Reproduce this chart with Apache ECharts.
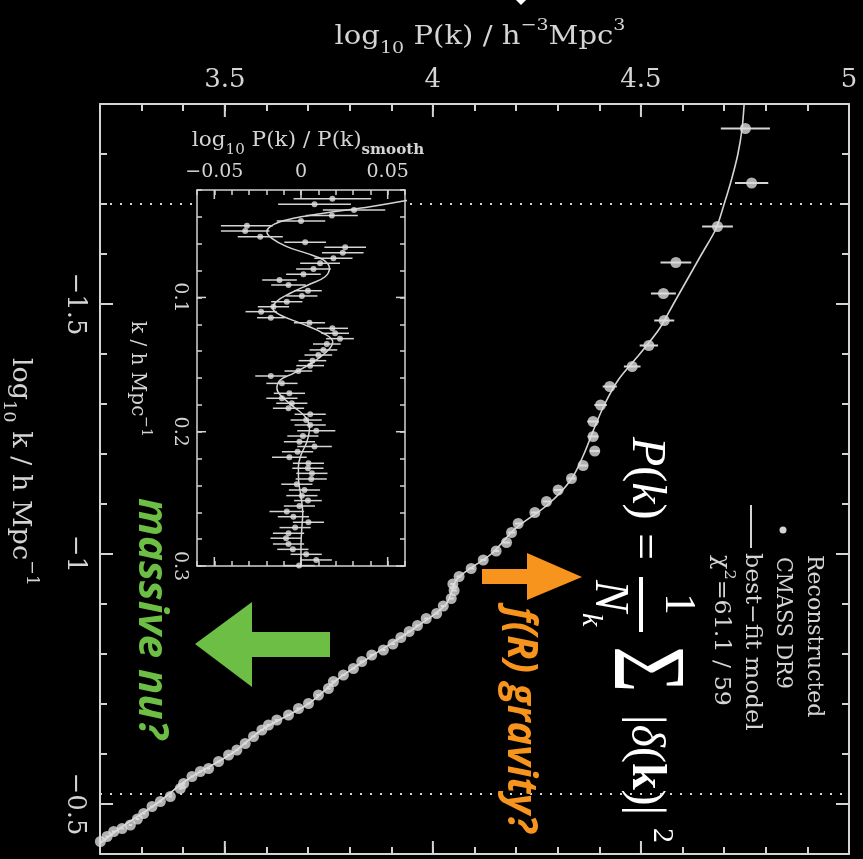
<!DOCTYPE html>
<html>
<head>
<meta charset="utf-8">
<script src="https://cdn.jsdelivr.net/npm/echarts@6/dist/echarts.min.js"></script>
<style>
  html, body { margin: 0; padding: 0; background: #000; }
  #chart { width: 863px; height: 859px; }
</style>
</head>
<body>
<div id="chart"></div>
<script>
// ---- Reconstructed CMASS DR9 power spectrum: log10 k [h/Mpc] and log10 P(k) ----
const mainLogK = [-1.851,-1.742,-1.655,-1.583,-1.521,-1.467,-1.417,-1.375,-1.335,-1.298,-1.265,-1.235,-1.206,-1.177,-1.151,-1.128,-1.105,-1.083,-1.061,-1.043,-1.023,-1.006,-0.988,-0.971,-0.955,-0.940,-0.927,-0.911,-0.896,-0.881,-0.871,-0.857,-0.845,-0.833,-0.820,-0.808,-0.798,-0.785,-0.771,-0.758,-0.745,-0.731,-0.718,-0.701,-0.691,-0.678,-0.668,-0.658,-0.648,-0.635,-0.621,-0.608,-0.598,-0.585,-0.571,-0.565,-0.555,-0.541,-0.531,-0.515,-0.505,-0.495,-0.481,-0.470,-0.458,-0.451,-0.445,-0.435,-0.425];
const mainLogP = [4.751,4.766,4.684,4.584,4.554,4.556,4.519,4.479,4.425,4.403,4.385,4.385,4.389,4.361,4.333,4.301,4.273,4.245,4.205,4.189,4.177,4.152,4.121,4.092,4.063,4.048,4.051,4.044,4.025,4.009,3.984,3.963,3.943,3.923,3.904,3.881,3.853,3.829,3.809,3.785,3.761,3.749,3.725,3.701,3.677,3.653,3.625,3.605,3.589,3.569,3.549,3.529,3.509,3.485,3.461,3.441,3.421,3.401,3.393,3.369,3.345,3.325,3.305,3.290,3.273,3.253,3.233,3.217,3.201];
const mainErr = [0.059,0.040,0.037,0.037,0.030,0.024,0.022,0.020,0.017,0.015,0.014,0.013,0.012,0.011,0.010,0.010,0.009,0.009,0.008,0.008,0.008,0.007,0.007,0.007,0.006,0.006,0.006,0.006,0.006,0.005,
  0.005,0.005,0.005,0.005,0.005,0.005,0.005,0.005,0.005,0.005,0.005,0.005,0.005,0.005,0.005,0.005,0.005,0.005,0.005,0.005,
  0.004,0.004,0.004,0.004,0.004,0.004,0.004,0.004,0.004,0.004,0.004,0.004,0.004,0.004,0.004,0.004,0.004,0.004,0.004];

// best-fit model curve
const modelLogK = [-1.90,-1.85,-1.80,-1.75,-1.70,-1.65,-1.60,-1.55,-1.50,-1.45,-1.40,-1.35,-1.30,-1.25,-1.20,-1.15,-1.10,-1.05,-1.00,-0.95,-0.90,-0.85,-0.80,-0.75,-0.70,-0.65,-0.60,-0.55,-0.50,-0.45,-0.40];
const modelLogP = [4.748,4.743,4.733,4.718,4.700,4.680,4.646,4.612,4.578,4.544,4.497,4.447,4.413,4.387,4.363,4.333,4.278,4.197,4.140,4.058,4.032,3.953,3.860,3.772,3.700,3.592,3.515,3.412,3.335,3.245,3.170];

// ---- inset: BAO wiggles, log10 P(k)/P_smooth(k) against k ----
const insetK = [0.0265,0.0306,0.0349,0.0389,0.0431,0.0466,0.0505,0.0548,0.0589,0.0627,0.0667,0.0709,0.0746,0.0788,0.0828,0.0870,0.0907,0.0950,0.0989,0.1032,0.1069,0.1106,0.1151,0.1188,0.1230,0.1267,0.1307,0.1347,0.1391,0.1429,0.1471,0.1508,0.1548,0.1585,0.1640,0.1714,0.1751,0.1788,0.1826,0.1870,0.1913,0.1950,0.1992,0.2032,0.2074,0.2111,0.2149,0.2190,0.2235,0.2272,0.2310,0.2352,0.2391,0.2434,0.2476,0.2513,0.2553,0.2595,0.2633,0.2674,0.2714,0.2756,0.2793,0.2836,0.2876,0.2913,0.2955,0.2997];
const insetRatio = [0.0181,0.0078,0.0306,0.0178,0.0000,-0.0312,-0.0322,-0.0235,0.0024,0.0255,0.0241,0.0187,0.0110,0.0072,0.0014,-0.0124,-0.0072,0.0040,0.0005,-0.0082,-0.0159,-0.0230,-0.0174,0.0049,0.0181,0.0197,0.0225,0.0149,0.0129,0.0100,0.0066,0.0053,-0.0015,-0.0174,-0.0110,-0.0067,-0.0110,-0.0053,-0.0072,0.0053,0.0030,0.0053,0.0088,0.0011,-0.0009,0.0078,-0.0020,-0.0067,0.0043,0.0040,0.0063,0.0059,-0.0024,0.0020,0.0005,0.0040,-0.0009,-0.0082,-0.0044,0.0043,-0.0034,-0.0072,-0.0086,-0.0072,-0.0047,0.0030,0.0088,-0.0011];
const insetErr = [0.0224,0.021,0.018,0.015,0.014,0.015,0.014,0.013,0.012,0.012,0.012,0.011,0.0115,0.010,0.010,0.010,0.010,0.008,0.009,0.009,0.009,0.009,0.008,0.009,0.009,0.008,0.008,0.008,0.008,0.008,0.008,0.008,0.008,0.009,
  0.009,0.009,0.009,0.009,0.009,0.009,0.009,0.009,0.011,0.009,0.009,0.010,0.009,0.010,0.009,0.009,0.009,0.009,0.009,0.009,
  0.009,0.008,0.009,0.010,0.009,0.009,0.009,0.009,0.009,0.009,0.009,0.009,0.009,0.009];
const smoothK = [0.024,0.028,0.0324,0.0362,0.040,0.0436,0.0473,0.051,0.056,0.0622,0.0672,0.0721,0.0783,0.0846,0.090,0.0969,0.1032,0.1081,0.1131,0.1193,0.1267,0.133,0.1391,0.1479,0.1565,0.1615,0.1677,0.1726,0.1813,0.1888,0.1974,0.2074,0.2173,0.226,0.2359,0.2484,0.2607,0.2732,0.2856,0.300];
const smoothRatio = [0.075,0.060,0.0398,0.0187,0.0,-0.012,-0.0178,-0.0197,-0.0168,-0.0082,0.0034,0.0129,0.0164,0.0139,0.0053,-0.0062,-0.0143,-0.0162,-0.012,0.0,0.0129,0.0183,0.0158,0.0072,-0.0044,-0.012,-0.0139,-0.012,-0.0044,0.0024,0.0049,0.0034,0.0,-0.0015,-0.0014,0.0,0.0010,0.0004,0.0,0.0];

// ---- axis ranges and labelled ticks ----
const pRange = [3.2, 5.0];
const kRange = [-1.9, -0.4];
const ratioRange = [-0.06, 0.06];
const kLinRange = [0.02, 0.3];
const pTicks = [3.5, 4, 4.5, 5];
const kTicks = [-1.5, -1, -0.5];
const ratioTicks = [-0.05, 0, 0.05];
const kLinTicks = [0.1, 0.2, 0.3];

const FG = '#d4d4d4';
const SERIF = '"DejaVu Serif", serif';
const TEX = '"Liberation Serif", serif';
const SANS = '"Open Sans", sans-serif';

const near = (list, v) => list.some(t => Math.abs(t - v) < 1e-6);
const fmt = v => String(+v.toFixed(3)).replace('-', '\u2212');

function axis(grid, pos, range, step, opts) {
  const o = opts || {};
  return {
    gridIndex: grid, type: 'value', position: pos,
    min: range[0], max: range[1], interval: step,
    inverse: !!o.inverse, z: o.z || 0,
    axisLine: { onZero: false, lineStyle: { color: FG, width: o.lw || 2 } },
    axisTick: { inside: true, length: o.tick || 7, lineStyle: { color: FG, width: o.lw || 2 } },
    splitLine: { show: false },
    axisLabel: o.labels ? {
      show: true, color: FG, fontFamily: SERIF, fontSize: o.fs || 26,
      margin: o.margin || 10, rotate: o.rotate || 0,
      formatter: v => near(o.labels, v) ? fmt(v) : ''
    } : { show: false }
  };
}

// longer ticks at the labelled values, drawn on both sides of a frame
function majorTicks(xi, yi, values, dir, other, len, lw, z) {
  return {
    type: 'custom', xAxisIndex: xi, yAxisIndex: yi, clip: false, silent: true, z: z,
    data: values.map(v => dir === 'x' ? [v, other] : [other, v]),
    renderItem: (params, api) => {
      const r = params.coordSys;
      const p = api.coord([api.value(0), api.value(1)]);
      const st = { stroke: FG, lineWidth: lw };
      const kids = dir === 'x' ? [
        { type: 'line', shape: { x1: p[0], y1: r.y, x2: p[0], y2: r.y + len }, style: st },
        { type: 'line', shape: { x1: p[0], y1: r.y + r.height, x2: p[0], y2: r.y + r.height - len }, style: st }
      ] : [
        { type: 'line', shape: { x1: r.x, y1: p[1], x2: r.x + len, y2: p[1] }, style: st },
        { type: 'line', shape: { x1: r.x + r.width, y1: p[1], x2: r.x + r.width - len, y2: p[1] }, style: st }
      ];
      return { type: 'group', children: kids };
    }
  };
}

// horizontal error bars in the x direction
function errorBars(xi, yi, xs, ys, es, lw, z) {
  return {
    type: 'custom', xAxisIndex: xi, yAxisIndex: yi, silent: true, z: z,
    data: xs.map((x, i) => [x, ys[i], es[i]]),
    encode: { x: 0, y: 1 },
    renderItem: (params, api) => {
      const x = api.value(0), y = api.value(1), e = api.value(2);
      const a = api.coord([x - e, y]), b = api.coord([x + e, y]);
      return { type: 'line', shape: { x1: a[0], y1: a[1], x2: b[0], y2: b[1] }, style: { stroke: FG, lineWidth: lw } };
    }
  };
}

function rotText(x, y, text, style, extra) {
  return Object.assign({
    type: 'text', x: x, y: y, rotation: -Math.PI / 2, z: 20,
    style: Object.assign({ text: text, fill: FG, fontFamily: SERIF, fontSize: 22, align: 'left', verticalAlign: 'middle' }, style)
  }, extra || {});
}

const texTok = (size, extra) => Object.assign({ fontFamily: TEX, fontSize: size, fill: '#ffffff', lineHeight: size + 4 }, extra || {});

const chart = echarts.init(document.getElementById('chart'), null, { renderer: 'canvas' });

chart.setOption({
  backgroundColor: '#000000',
  animation: false,
  grid: [
    { left: 100, top: 104, width: 749, height: 750 },
    { left: 197, top: 190, width: 208, height: 376, show: true, backgroundColor: '#000000', borderWidth: 0, z: 10 }
  ],
  xAxis: [
    axis(0, 'top', pRange, 0.1, { labels: pTicks, margin: 11 }),
    axis(0, 'bottom', pRange, 0.1),
    axis(1, 'top', ratioRange, 0.01, { labels: ratioTicks, fs: 19, margin: 8, tick: 5, lw: 1.5, z: 12 }),
    axis(1, 'bottom', ratioRange, 0.01, { tick: 5, lw: 1.5, z: 12 })
  ],
  yAxis: [
    axis(0, 'left', kRange, 0.1, { inverse: true, labels: kTicks, rotate: -90, margin: 12 }),
    axis(0, 'right', kRange, 0.1, { inverse: true }),
    axis(1, 'left', kLinRange, 0.02, { inverse: true, labels: kLinTicks, rotate: -90, fs: 19, margin: 8, tick: 5, lw: 1.5, z: 12 }),
    axis(1, 'right', kLinRange, 0.02, { inverse: true, tick: 5, lw: 1.5, z: 12 })
  ],
  series: [
    {
      type: 'line', xAxisIndex: 0, yAxisIndex: 0, z: 2,
      data: modelLogP.map((p, i) => [p, modelLogK[i]]),
      smooth: 0.3, showSymbol: false, clip: true, silent: true,
      lineStyle: { color: FG, width: 1.6 },
      markLine: {
        silent: true, symbol: ['none', 'none'], label: { show: false },
        lineStyle: { color: FG, width: 2, type: [2, 8] },
        data: kLinRange.map(k => ({ yAxis: Math.log10(k) }))
      }
    },
    errorBars(0, 0, mainLogP, mainLogK, mainErr, 2, 3),
    {
      type: 'scatter', xAxisIndex: 0, yAxisIndex: 0, z: 4, silent: true,
      data: mainLogP.map((p, i) => [p, mainLogK[i]]),
      symbol: 'circle', symbolSize: 11,
      itemStyle: { color: '#dcdcdc' }
    },
    majorTicks(0, 0, pTicks, 'x', kRange[0], 13, 2, 5),
    majorTicks(0, 0, kTicks, 'y', pRange[0], 13, 2, 5),
    {
      type: 'line', xAxisIndex: 2, yAxisIndex: 2, z: 13,
      data: smoothRatio.map((r, i) => [r, smoothK[i]]),
      smooth: 0.4, showSymbol: false, clip: true, silent: true,
      lineStyle: { color: FG, width: 1.5 }
    },
    errorBars(2, 2, insetRatio, insetK, insetErr, 1.5, 13),
    {
      type: 'scatter', xAxisIndex: 2, yAxisIndex: 2, z: 14, silent: true,
      data: insetRatio.map((r, i) => [r, insetK[i]]),
      symbol: 'circle', symbolSize: 6,
      itemStyle: { color: '#e0e0e0' }
    },
    majorTicks(2, 2, ratioTicks, 'x', kLinRange[0], 9, 1.5, 13),
    majorTicks(2, 2, kLinTicks, 'y', ratioRange[0], 9, 1.5, 13)
  ],
  graphic: { elements: [
    // axis titles
    {
      type: 'text', x: 480, y: 37, z: 20, scaleX: 1.12,
      style: {
        text: '{m|log}{s|10}{m| P(k) / h}{p|\u22123}{m|Mpc}{p|3}', align: 'center', verticalAlign: 'middle',
        rich: {
          m: { fontFamily: SERIF, fontSize: 26, fill: FG, lineHeight: 40 },
          s: { fontFamily: SERIF, fontSize: 17, fill: FG, lineHeight: 18, verticalAlign: 'bottom' },
          p: { fontFamily: SERIF, fontSize: 17, fill: FG, lineHeight: 18, verticalAlign: 'top' }
        }
      }
    },
    rotText(20, 472, '{m|log}{s|10}{m| k / h Mpc}{p|\u22121}', {
      align: 'center',
      rich: {
        m: { fontFamily: SERIF, fontSize: 26, fill: FG, lineHeight: 40 },
        s: { fontFamily: SERIF, fontSize: 17, fill: FG, lineHeight: 18, verticalAlign: 'bottom' },
        p: { fontFamily: SERIF, fontSize: 17, fill: FG, lineHeight: 18, verticalAlign: 'top' }
      }
    }, { scaleX: 1.04 }),
    {
      type: 'text', x: 308, y: 141, z: 20, scaleX: 1.08,
      style: {
        text: '{m|log}{s|10}{m| P(k) / P(k)}{b|smooth}', align: 'center', verticalAlign: 'middle',
        rich: {
          m: { fontFamily: SERIF, fontSize: 20, fill: FG, lineHeight: 32 },
          s: { fontFamily: SERIF, fontSize: 14, fill: FG, lineHeight: 14, verticalAlign: 'bottom' },
          b: { fontFamily: SERIF, fontSize: 14, fontWeight: 'bold', fill: FG, lineHeight: 14, verticalAlign: 'bottom' }
        }
      }
    },
    rotText(137, 379, '{m|k / h Mpc}{p|\u22121}', {
      align: 'center',
      rich: {
        m: { fontFamily: SERIF, fontSize: 20, fill: FG, lineHeight: 32 },
        p: { fontFamily: SERIF, fontSize: 14, fill: FG, lineHeight: 14, verticalAlign: 'top' }
      }
    }),
    // key
    rotText(814, 555, 'Reconstructed'),
    { type: 'circle', z: 20, shape: { cx: 783, cy: 530, r: 3.5 }, style: { fill: FG } },
    rotText(783, 557, 'CMASS DR9', {}, { scaleX: 0.94 }),
    { type: 'line', z: 20, shape: { x1: 751, y1: 505, x2: 751, y2: 548 }, style: { stroke: FG, lineWidth: 2 } },
    rotText(752, 553, 'best\u2212fit model', {}, { scaleX: 1.08 }),
    rotText(721, 555, '{m|\u03c7}{p|2}{m|=61.1 / 59}', {
      rich: {
        m: { fontFamily: SERIF, fontSize: 22, fill: FG, lineHeight: 30 },
        p: { fontFamily: SERIF, fontSize: 15, fill: FG, lineHeight: 15, verticalAlign: 'top' }
      }
    }, { scaleX: 1.08 }),
    // estimator formula
    {
      type: 'group', x: 700, y: 430, rotation: -Math.PI / 2, z: 20,
      children: [
        { type: 'text', x: 7, y: 54, style: { text: '{i|P}{n|(}{i|k}{n|)}', verticalAlign: 'middle',
          rich: { i: texTok(48, { fontStyle: 'italic' }), n: texTok(48) } } },
        { type: 'text', x: 103, y: 57, style: { text: '=', fontFamily: TEX, fontSize: 48, fill: '#fff', verticalAlign: 'middle' } },
        { type: 'rect', shape: { x: 147, y: 57, width: 55, height: 4 }, style: { fill: '#fff' } },
        { type: 'text', x: 174, y: 22, style: { text: '1', fontFamily: TEX, fontSize: 44, fill: '#fff', align: 'center', verticalAlign: 'middle' } },
        { type: 'text', x: 150, y: 91, style: { text: 'N', fontFamily: TEX, fontStyle: 'italic', fontSize: 48, fill: '#fff', verticalAlign: 'middle' } },
        { type: 'text', x: 183, y: 109, style: { text: 'k', fontFamily: TEX, fontStyle: 'italic', fontSize: 30, fill: '#fff', verticalAlign: 'middle' } },
        { type: 'text', x: 216, y: 58, scaleY: 1.3, style: { text: '\u03a3', fontFamily: TEX, fontSize: 80, fill: '#fff', verticalAlign: 'middle' } },
        { type: 'text', x: 285, y: 55, style: { text: '{n||}{i|\u03b4}{n|(}{b|k}{n|)|}', verticalAlign: 'middle',
          rich: { i: texTok(48, { fontStyle: 'italic' }), n: texTok(48), b: texTok(48, { fontWeight: 'bold' }) } } },
        { type: 'text', x: 398, y: 38, style: { text: '2', fontFamily: TEX, fontSize: 30, fill: '#fff', verticalAlign: 'middle' } }
      ]
    },
    // annotations
    { type: 'polygon', z: 20, shape: { points: [[195, 644], [252, 602], [252, 632], [330, 632], [330, 657], [252, 657], [252, 687]] }, style: { fill: '#6cbe45' } },
    rotText(151, 498, 'massive nu?', { fill: '#6cbe45', fontFamily: SANS, fontWeight: 'bold', fontStyle: 'italic', fontSize: 42 }),
    { type: 'polygon', z: 20, shape: { points: [[582, 577], [527, 553], [527, 569], [482, 569], [482, 584], [527, 584], [527, 600]] }, style: { fill: '#f7941d' } },
    rotText(520, 607, 'f(R) gravity?', { fill: '#f7941d', fontFamily: SANS, fontWeight: 'bold', fontStyle: 'italic', fontSize: 41 }, { scaleX: 0.97 }),
    { type: 'polygon', z: 20, shape: { points: [[516, 0], [526, 0], [521, 5]] }, style: { fill: '#ffffff' } }
  ] }
});
</script>
</body>
</html>
